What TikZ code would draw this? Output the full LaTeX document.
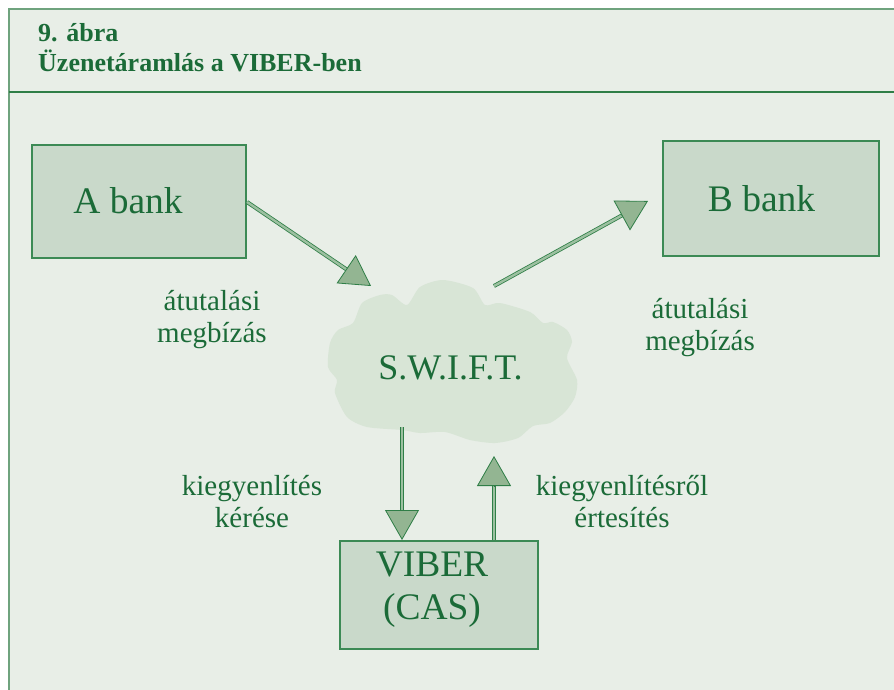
\documentclass[tikz,border=0pt]{standalone}
\usepackage{fontspec}
\setmainfont{Liberation Serif}
\usetikzlibrary{arrows.meta,calc}
\definecolor{bgfill}{HTML}{E8EEE7}
\definecolor{boxfill}{HTML}{C9D9CA}
\definecolor{boxdraw}{HTML}{3C8A55}
\definecolor{txtgreen}{HTML}{1B6B38}
\definecolor{cloudfill}{HTML}{D8E5D6}
\definecolor{headfill}{HTML}{93B592}
\definecolor{arrowdraw}{HTML}{2F7E47}
\definecolor{shaftfill}{HTML}{9CC0A0}
\definecolor{framegreen}{HTML}{6FA37E}
\tikzset{
  bankbox/.style={draw=boxdraw, line width=1.1pt, fill=boxfill, inner sep=0pt},
  boxtext/.style={text=txtgreen, font=\fontsize{37.5}{43}\selectfont, align=center, inner sep=0pt},
  lbl/.style={text=txtgreen, font=\fontsize{29}{32}\selectfont, align=center, inner sep=0pt},
  shaft/.style={draw=arrowdraw, line width=0.8pt, double=shaftfill, double distance=2.4pt},
  headtip/.style={draw=arrowdraw, line width=0.8pt, -{Triangle[length=30pt,width=34pt,fill=headfill,line join=miter]}},
  titletext/.style={anchor=base west, text=txtgreen, font=\bfseries\fontsize{26}{30}\selectfont, inner sep=0pt}
}
\begin{document}
\begin{tikzpicture}[x=1pt,y=-1pt]
\useasboundingbox (0,0) rectangle (894,690);
\fill[white] (0,0) rectangle (894,690);
\fill[bgfill] (9,9) rectangle (894,690);
\draw[framegreen, line width=1.5pt] (9,690) -- (9,9) -- (894,9);
\draw[arrowdraw, line width=2pt] (9,92) -- (894,92);
\node[titletext] (t1) at (38,42) {9. ábra};
\node[titletext] (t2) at (38,72) {Üzenetáramlás a VIBER-ben};

% cloud
\fill[cloudfill] plot[smooth cycle, tension=0.45] coordinates {
 (443,280) (473,288) (485,305) (500,303) (530,312) (543,323) (553,322) (567,330)
 (572,342) (567,358) (577,380) (575,397) (565,412) (550,423) (533,426) (518,438)
 (495,443) (470,440) (445,432) (420,433) (402,430) (367,427) (347,417) (335,393)
 (337,380) (328,367) (330,343) (338,330) (353,323) (362,303) (380,295) (392,295)
 (407,305) (420,287) };
\node[text=txtgreen, font=\fontsize{36}{40}\selectfont, inner sep=0pt, anchor=base] (swift) at (450.5,379) {S.W.I.F.T.};

% boxes
\node[bankbox, minimum width=214pt, minimum height=113pt] (abank) at (139,201.5) {};
\node[boxtext] (atext) at (128,201) {A bank};
\node[bankbox, minimum width=216pt, minimum height=115pt] (bbank) at (771,198.5) {};
\node[boxtext] (btext) at (761.5,198.5) {B bank};
\node[bankbox, minimum width=198pt, minimum height=108pt] (viber) at (439,595) {};
\node[boxtext] (vtext) at (432,590) {VIBER\\(CAS)};

% arrow coordinates
\coordinate (a1s) at (247,202);
\coordinate (a1t) at (371,286);
\coordinate (a2s) at (494,286);
\coordinate (a2t) at (648,201);
\coordinate (a3s) at (402,427);
\coordinate (a3t) at (402,540);
\coordinate (a4s) at (494,540);
\coordinate (a4t) at (494,456);

\foreach \s/\t in {a1s/a1t,a2s/a2t,a3s/a3t,a4s/a4t}{
  \draw[shaft, shorten >=26pt] (\s) -- (\t);
  \draw[headtip] ($(\t)!30pt!(\s)$) -- (\t);
}

% labels
\node[lbl] (l1) at (212,320) {átutalási\\megbízás};
\node[lbl] (l2) at (700,328) {átutalási\\megbízás};
\node[lbl] (l3) at (252,502) {kiegyenlítés\\kérése};
\node[lbl] (l4) at (622,502) {kiegyenlítésről\\értesítés};
\end{tikzpicture}
\end{document}
